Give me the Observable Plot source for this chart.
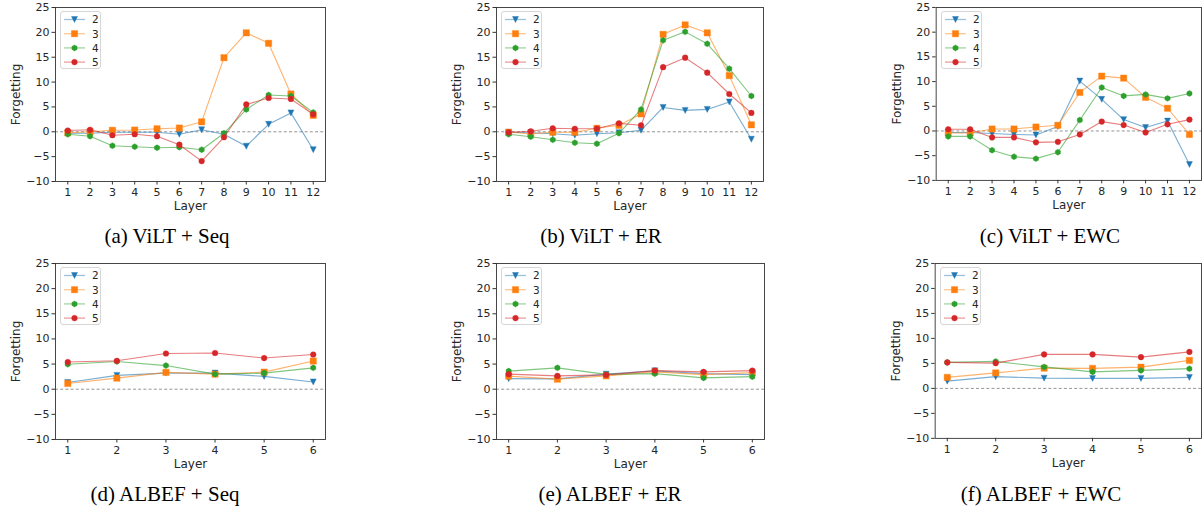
<!DOCTYPE html>
<html>
<head>
<meta charset="utf-8">
<script src="https://cdn.jsdelivr.net/npm/d3@7"></script>
<script src="https://cdn.jsdelivr.net/npm/@observablehq/plot@0.6"></script>
<style>
  html, body { margin: 0; padding: 0; background: #fff; }
  body { width: 1204px; height: 510px; position: relative; overflow: hidden; font-family: "DejaVu Sans", sans-serif; }
  .panel { position: absolute; }
  .panel svg { overflow: visible; }
  .cap { position: absolute; font-family: "Liberation Serif", "Times New Roman", serif; font-size: 21px; color: #000; white-space: nowrap; transform: translateX(-50%); line-height: 1; }
  .legend { position: absolute; box-sizing: border-box; border: 1px solid #d6d6d6; border-radius: 3px; background: rgba(255,255,255,0.85); }
</style>
</head>
<body>
<script>
// ---------- data ----------
const layers12 = [1, 2, 3, 4, 5, 6, 7, 8, 9, 10, 11, 12];
const layers6 = [1, 2, 3, 4, 5, 6];
const yTicks = [-10, -5, 0, 5, 10, 15, 20, 25];
const seriesNames = ["2", "3", "4", "5"];
const seriesColors = ["#1f77b4", "#ff7f0e", "#2ca02c", "#d62728"];

// (a) ViLT + Seq
const viltSeq2 = [-0.3, -0.3, -0.1, -0.1, -0.1, -0.5, 0.4, -0.5, -2.9, 1.5, 3.8, -3.6];
const viltSeq3 = [-0.2, 0.0, 0.3, 0.35, 0.6, 0.75, 2.0, 14.9, 19.9, 17.8, 7.6, 3.3];
const viltSeq4 = [-0.5, -0.9, -2.8, -3.0, -3.2, -3.1, -3.6, -0.3, 4.5, 7.4, 7.2, 3.9];
const viltSeq5 = [0.25, 0.4, -0.7, -0.5, -0.9, -2.6, -5.9, -1.1, 5.5, 6.8, 6.6, 3.5];
// (b) ViLT + ER
const viltER2 = [-0.1, -0.2, -0.4, -0.7, -0.4, -0.2, 0.3, 4.9, 4.3, 4.5, 6.0, -1.5];
const viltER3 = [-0.1, -0.4, -0.1, -0.1, 0.7, 1.3, 3.6, 19.6, 21.5, 19.9, 11.3, 1.4];
const viltER4 = [-0.5, -1.0, -1.6, -2.2, -2.4, -0.3, 4.5, 18.4, 20.1, 17.7, 12.7, 7.2];
const viltER5 = [-0.1, 0.1, 0.7, 0.6, 0.65, 1.7, 1.3, 13.0, 14.9, 11.9, 7.6, 3.8];
// (c) ViLT + EWC
const viltEWC2 = [-0.3, -0.3, -0.5, -0.7, -0.8, 0.9, 10.1, 6.4, 2.3, 0.7, 2.0, -6.8];
const viltEWC3 = [-0.4, -0.4, 0.4, 0.4, 0.8, 1.15, 7.8, 11.1, 10.7, 6.8, 4.6, -0.7];
const viltEWC4 = [-1.1, -1.1, -3.9, -5.2, -5.6, -4.3, 2.2, 8.8, 7.1, 7.4, 6.6, 7.6];
const viltEWC5 = [0.35, 0.35, -1.3, -1.3, -2.3, -2.2, -0.7, 1.9, 1.2, -0.3, 1.35, 2.3];
// (d) ALBEF + Seq
const albefSeq2 = [1.35, 2.75, 3.2, 3.2, 2.55, 1.45];
const albefSeq3 = [1.15, 2.2, 3.35, 3.0, 3.4, 5.6];
const albefSeq4 = [4.95, 5.5, 4.7, 3.0, 3.2, 4.25];
const albefSeq5 = [5.4, 5.65, 7.1, 7.2, 6.2, 6.9];
// (e) ALBEF + ER
const albefER2 = [2.1, 2.05, 3.0, 3.65, 3.1, 2.9];
const albefER3 = [2.6, 2.0, 2.65, 3.45, 2.9, 3.3];
const albefER4 = [3.6, 4.25, 2.95, 3.1, 2.25, 2.5];
const albefER5 = [3.0, 2.65, 2.85, 3.7, 3.45, 3.7];
// (f) ALBEF + EWC
const albefEWC2 = [1.45, 2.35, 2.05, 2.0, 2.0, 2.2];
const albefEWC3 = [2.2, 3.1, 4.05, 4.0, 4.25, 5.6];
const albefEWC4 = [5.2, 5.4, 4.3, 3.3, 3.6, 3.95];
const albefEWC5 = [5.2, 5.05, 6.8, 6.8, 6.25, 7.3];

const captions = ["(a) ViLT + Seq", "(b) ViLT + ER", "(c) ViLT + EWC", "(d) ALBEF + Seq", "(e) ALBEF + ER", "(f) ALBEF + EWC"];

// ---------- marker shapes (matplotlib v, s, h, o) ----------
const rad = s => Math.sqrt(s / Math.PI);
const triDown = { draw(ctx, size) { const r = rad(size); ctx.moveTo(-r, -r); ctx.lineTo(r, -r); ctx.lineTo(0, r); ctx.closePath(); } };
const square = { draw(ctx, size) { const r = rad(size) * 1.05; ctx.moveTo(-r, -r); ctx.lineTo(r, -r); ctx.lineTo(r, r); ctx.lineTo(-r, r); ctx.closePath(); } };
const hexagon = { draw(ctx, size) { const r = rad(size); for (let k = 0; k < 6; k++) { const a = Math.PI / 2 + k * Math.PI / 3; const px = r * Math.cos(a), py = -r * Math.sin(a); if (k === 0) ctx.moveTo(px, py); else ctx.lineTo(px, py); } ctx.closePath(); } };
const circle = { draw(ctx, size) { const r = rad(size) * 0.95; ctx.moveTo(r, 0); ctx.arc(0, 0, r, 0, 2 * Math.PI); } };
const seriesSymbols = [triDown, square, hexagon, circle];

// ---------- layout ----------
const panels = [
  { layers: layers12, series: [viltSeq2, viltSeq3, viltSeq4, viltSeq5], fl: 55, ft: 7, fw: 270, fh: 174, cx: 167, cy: 226 },
  { layers: layers12, series: [viltER2, viltER3, viltER4, viltER5], fl: 496, ft: 7, fw: 267, fh: 174, cx: 601, cy: 226 },
  { layers: layers12, series: [viltEWC2, viltEWC3, viltEWC4, viltEWC5], fl: 936, ft: 7, fw: 267, fh: 174, cx: 1050, cy: 226 },
  { layers: layers6, series: [albefSeq2, albefSeq3, albefSeq4, albefSeq5], fl: 55, ft: 263, fw: 270, fh: 176, cx: 165, cy: 484 },
  { layers: layers6, series: [albefER2, albefER3, albefER4, albefER5], fl: 496, ft: 263, fw: 268, fh: 176, cx: 610, cy: 484 },
  { layers: layers6, series: [albefEWC2, albefEWC3, albefEWC4, albefEWC5], fl: 935, ft: 263, fw: 268, fh: 176, cx: 1041, cy: 484 }
];

const ML = 55, MT = 7, MR = 3, MB = 42;

panels.forEach((p, i) => {
  const n = p.layers.length;
  const pad = (p.layers[n - 1] - p.layers[0]) * 0.05;
  const rows = p.series.map((vals, s) => vals.map((v, j) => ({ layer: p.layers[j], value: v, series: seriesNames[s] })));

  const marks = [
    Plot.ruleY([0], { stroke: "#888", strokeWidth: 0.9, strokeDasharray: "3,2.2" })
  ];
  rows.forEach((r, s) => {
    marks.push(Plot.line(r, { x: "layer", y: "value", stroke: seriesColors[s], strokeWidth: 1.1, strokeOpacity: 0.6 }));
    marks.push(Plot.dot(r, { x: "layer", y: "value", r: 3, symbol: seriesSymbols[s], fill: seriesColors[s], stroke: seriesColors[s], strokeWidth: 0.4 }));
  });
  marks.push(Plot.frame({ stroke: "#333", strokeWidth: 0.9 }));
  marks.push(Plot.axisY({ ticks: yTicks, tickSize: 3.5, tickPadding: 2.5, fontSize: 11, label: null, stroke: "#333" }));
  marks.push(Plot.axisY({ ticks: [], tickSize: 0, label: "Forgetting", labelAnchor: "center", labelOffset: 44, labelArrow: "none", fontSize: 12 }));
  marks.push(Plot.axisX({ ticks: p.layers, tickSize: 3.5, tickPadding: 3, fontSize: 11, label: null, tickFormat: d => String(d), stroke: "#333" }));
  marks.push(Plot.axisX({ ticks: [], tickSize: 0, label: "Layer", labelAnchor: "center", labelOffset: 28.5, labelArrow: "none", fontSize: 12 }));

  const chart = Plot.plot({
    width: ML + p.fw + MR,
    height: MT + p.fh + MB,
    marginLeft: ML, marginTop: MT, marginRight: MR, marginBottom: MB,
    x: { domain: [p.layers[0] - pad, p.layers[n - 1] + pad] },
    y: { domain: [-10, 25] },
    style: { fontFamily: "DejaVu Sans", color: "#262626", background: "transparent", overflow: "visible" },
    marks
  });
  const wrap = document.createElement("div");
  wrap.className = "panel";
  wrap.style.left = (p.fl - ML) + "px";
  wrap.style.top = (p.ft - MT) + "px";
  wrap.appendChild(chart);
  document.body.appendChild(wrap);

  // legend (upper left)
  const lg = document.createElement("div");
  lg.className = "legend";
  const LW = 41, LH = 58;
  lg.style.left = (p.fl + 4.5) + "px";
  lg.style.top = (p.ft + 4) + "px";
  lg.style.width = LW + "px";
  lg.style.height = LH + "px";
  const svg = d3.create("svg").attr("width", LW - 2).attr("height", LH - 2).style("display", "block");
  seriesNames.forEach((name, s) => {
    const yy = 7.5 + s * 14.2;
    svg.append("line").attr("x1", 3).attr("x2", 24).attr("y1", yy).attr("y2", yy)
      .attr("stroke", seriesColors[s]).attr("stroke-width", 1.3).attr("stroke-opacity", 0.45);
    svg.append("path").attr("transform", `translate(13.5,${yy})`)
      .attr("d", d3.symbol(seriesSymbols[s], 9 * Math.PI)())
      .attr("fill", seriesColors[s]).attr("stroke", seriesColors[s]).attr("stroke-width", 0.4);
    svg.append("text").attr("x", 31).attr("y", yy + 3.8).attr("font-size", 10.5)
      .attr("font-family", "DejaVu Sans").attr("fill", "#262626").text(name);
  });
  lg.appendChild(svg.node());
  document.body.appendChild(lg);

  // caption
  const cap = document.createElement("div");
  cap.className = "cap";
  cap.style.left = p.cx + "px";
  cap.style.top = p.cy + "px";
  cap.textContent = captions[i];
  document.body.appendChild(cap);
});
</script>
</body>
</html>
